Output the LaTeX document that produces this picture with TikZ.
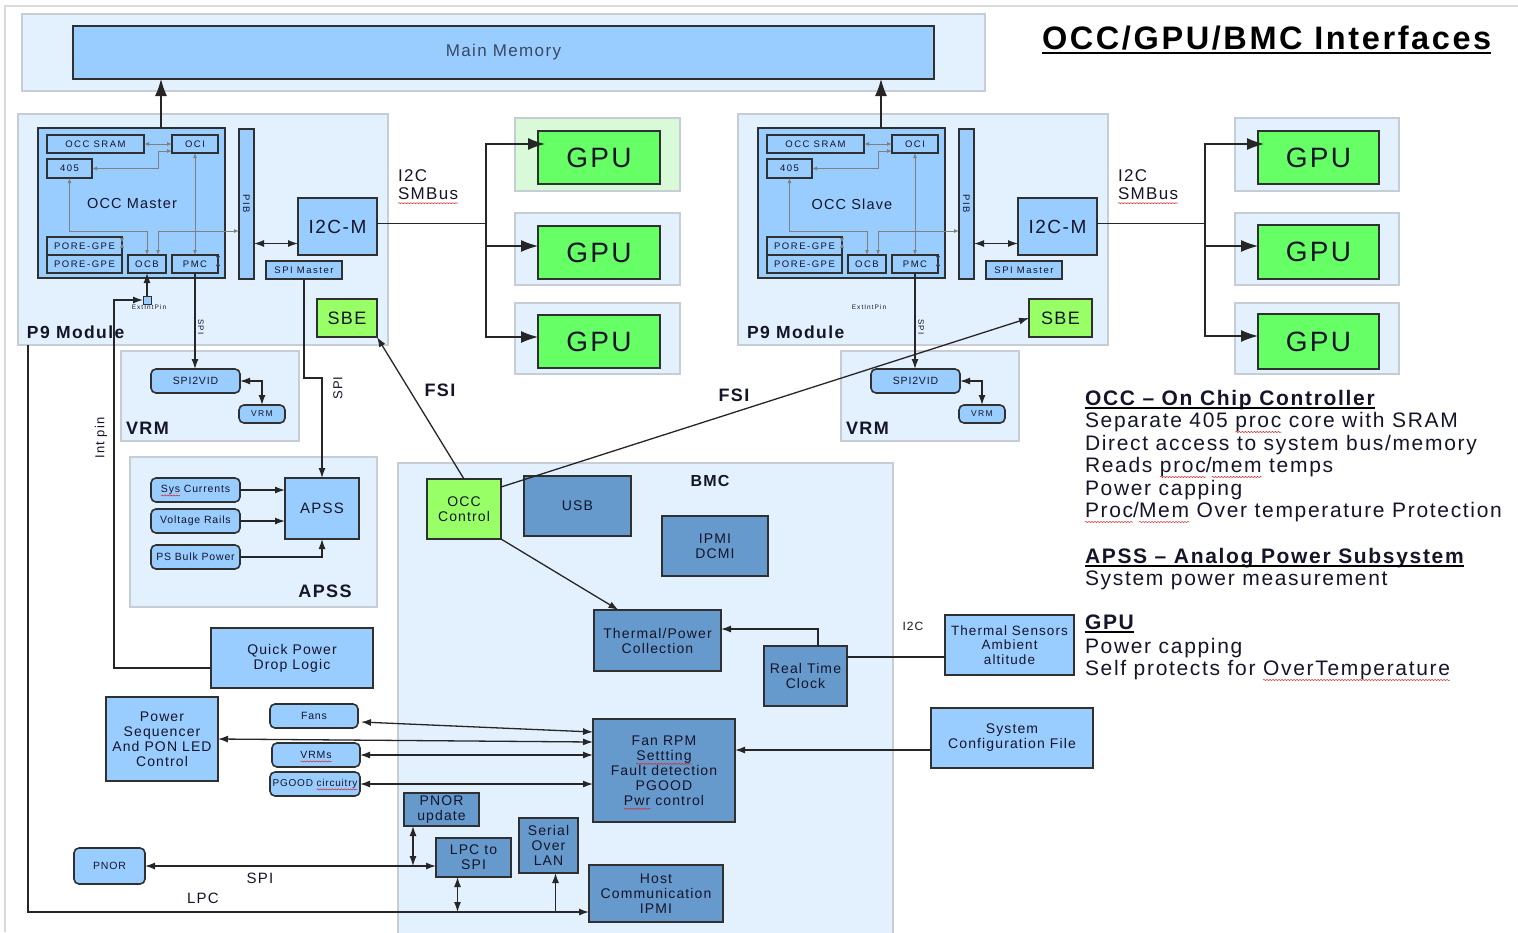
\documentclass[tikz,border=0pt]{standalone}
\usepackage{fontspec}
\setmainfont{Liberation Sans}[LetterSpace=8]
\newfontfamily\tinyface{Liberation Sans}[LetterSpace=16]
\usetikzlibrary{arrows.meta,calc,decorations.pathmorphing}

\definecolor{panelfill}{HTML}{E3F0FD}
\definecolor{panelline}{HTML}{C6CDD5}
\definecolor{gpanelfill}{HTML}{D8FAD8}
\definecolor{lblue}{HTML}{99CCFF}
\definecolor{dblue}{HTML}{6699CC}
\definecolor{gpugreen}{HTML}{66FF66}
\definecolor{sbegreen}{HTML}{99FF66}
\definecolor{boxline}{HTML}{303030}
\definecolor{txt}{HTML}{15152A}
\definecolor{memtxt}{HTML}{3A4862}
\definecolor{framegray}{HTML}{DADADA}
\definecolor{spellred}{HTML}{E02020}

\tikzset{
  bxbase/.style={inner sep=0pt,outer sep=0pt,align=center,text=txt},
  panel/.style={bxbase,fill=panelfill,draw=panelline,line width=1.5pt},
  gpanel/.style={panel,fill=gpanelfill,draw=panelline},
  lbox/.style={bxbase,fill=lblue,draw=boxline,line width=1.6pt},
  rbox/.style={lbox,rounded corners=5pt},
  dbox/.style={bxbase,fill=dblue,draw=boxline,line width=1.6pt},
  gpubox/.style={bxbase,fill=gpugreen,draw=boxline,line width=2pt},
  sbebox/.style={bxbase,fill=sbegreen,draw=boxline,line width=1.8pt},
  lbl/.style={inner sep=0pt,outer sep=0pt,text=txt},
  ftiny/.style={font=\tinyface\fontsize{9.5}{10}\selectfont},
  fsmall/.style={font=\fontsize{10.5}{12}\selectfont},
  fmed/.style={font=\fontsize{14}{15}\selectfont},
  fbold/.style={font=\bfseries\fontsize{18}{20}\selectfont},
  conn/.style={draw=black!85,line width=1.3pt},
  arr/.style={conn,-{Latex[length=10pt,width=7pt]}},
  rarr/.style={conn,{Latex[length=10pt,width=7pt]}-},
  darr/.style={conn,{Latex[length=10pt,width=7pt]}-{Latex[length=10pt,width=7pt]}},
  bigarr/.style={conn,-{Latex[length=17pt,width=12pt]}},
  garr/.style={draw=black!50,line width=0.9pt,{Latex[length=5pt,width=4pt]}-{Latex[length=5pt,width=4pt]}},
  wavy/.style={draw=spellred,line width=0.5pt,sharp corners,fill=none,decorate,decoration={snake,amplitude=0.55pt,segment length=3pt}},
  rt/.style={lbl,anchor=base west,font=\fontsize{21}{23}\selectfont},
  rth/.style={lbl,anchor=base west,font=\bfseries\fontsize{21}{23}\selectfont},
}

% box given by its corners: style, name, x1, y1, x2, y2, text
\newcommand\bx[7]{\node[#1,minimum width={#5-#3},minimum height={#6-#4}] (#2) at ({(#3+#5)/2},{(#4+#6)/2}) {#7};}

% word with a red wavy underline
\newsavebox\splbox
\newlength\spllen
\newlength\spldepth
\newcommand\spl[1]{\sbox\splbox{#1}\setlength\spllen{\wd\splbox}\setlength\spldepth{0.2em}\addtolength\spldepth{0.8pt}\leavevmode\rlap{\usebox\splbox}\tikz[baseline=0pt]{\path[use as bounding box] (0pt,0pt) rectangle (\spllen,0.5pt);\draw[wavy] (0pt,-\spldepth) -- (\spllen,-\spldepth);}}

% one P9 module with its OCC, PIB, I2C master and VRM
\newcommand\pmodule[3]{%
\begin{scope}[xshift=#2]
  \bx{panel}{#1pan}{18}{114}{388}{345}{}
  \bx{lbox}{#1occ}{38}{128}{225}{278}{}
  \bx{lbox,ftiny}{#1sram}{47}{135}{144}{153}{OCC SRAM}
  \bx{lbox,ftiny}{#1oci}{172}{135}{218}{153}{OCI}
  \bx{lbox,ftiny}{#1f}{47}{159}{92}{178}{405}
  \bx{lbox,ftiny}{#1pa}{47}{237}{122}{255}{PORE-GPE}
  \bx{lbox,ftiny}{#1pb}{47}{255}{122}{273}{PORE-GPE}
  \bx{lbox,ftiny}{#1ocb}{128}{255}{166}{273}{OCB}
  \bx{lbox,ftiny}{#1pmc}{172}{255}{218}{273}{PMC}
  \bx{lbox}{#1pib}{239}{129}{254}{279}{}
  \node[lbl,ftiny,rotate=-90] (#1pibt) at (#1pib) {PIB};
  \bx{lbox,font=\fontsize{19}{20}\selectfont}{#1i2c}{298}{198}{377}{255}{I2C-M}
  \bx{lbox,ftiny}{#1spim}{266}{261}{342}{279}{SPI Master}
  \node[lbl,font=\fontsize{14.5}{16}\selectfont] (#1occt) at (132,204) {#3};
  \node[lbl,font=\bfseries\fontsize{17.5}{19}\selectfont,anchor=base west] (#1lab) at (27,338) {P9 Module};
  \node[lbl,font=\tinyface\fontsize{6.5}{7}\selectfont] (#1ext) at (149,307) {ExtIntPin};
  \node[lbl,font=\tinyface\fontsize{8}{9}\selectfont,rotate=-90] (#1spit) at (201,327) {SPI};
  % VRM
  \bx{panel}{#1vpan}{121}{351}{299}{441}{}
  \bx{rbox,fsmall}{#1s2v}{151}{369}{240}{393}{SPI2VID}
  \bx{rbox,font=\tinyface\fontsize{8.5}{9}\selectfont}{#1vrm}{239}{405}{285}{423}{VRM}
  \node[lbl,fbold,anchor=base west] (#1vlab) at (126,434) {VRM};
  % internal OCC links
  \draw[garr] (#1sram.east) -- (#1oci.west);
  \draw[garr] (#1f.east) -| ($(#1oci.west)+(-14,7)$) -- ($(#1oci.west)+(0,7)$);
  \draw[garr] (#1oci.south) -- (#1pmc.north);
  \draw[garr] (#1f.south) -- ++(0,53) -| (#1ocb.north);
  \draw[garr] ($(#1pib.west)+(0,27)$) -| ($(#1ocb.north)+(11,0)$);
  \draw[garr] ($(#1pa.east)+(0,-3)$) -- ($(#1pa.east)+(0,-3)$ -| #1pib.west);
  \draw[garr,draw=black!75] ($(#1pmc.east)+(0,-3)$) -- ($(#1pmc.east)+(0,-3)$ -| #1pib.west);
  \coordinate (#1ia) at ($(#1i2c.west)+(0,17)$);
  \draw[darr] (#1ia -| #1pib.east) -- (#1ia);
  % SPI to the VRM
  \draw[arr] (#1pmc.south) -- (#1pmc.south |- #1s2v.north);
  \draw[darr] (#1s2v.east) -| (#1vrm.north);
  % bus to main memory
  \coordinate (#1up) at ($(#1occ.north)+(29.5,0)$);
  \draw[bigarr] (#1up) -- (#1up |- mem.south);
\end{scope}}

\begin{document}
\begin{tikzpicture}[x=1pt,y=-1pt]
\useasboundingbox (0,0) rectangle (1518,932);
\fill[white] (0,0) rectangle (1518,932);
\draw[framegray,line width=2pt] (4,6) -- (1518,6);
\draw[framegray,line width=2pt] (5,6) -- (5,932);

% main memory
\bx{panel}{mpan}{22}{14}{985}{91}{}
\bx{lbox,font=\fontsize{17}{18}\selectfont,text=memtxt}{mem}{73}{26}{934}{79}{Main Memory}

% title
\node[lbl,anchor=base west,font=\bfseries\fontsize{32.5}{34}\selectfont,text=black] (title) at (1042,49) {OCC/GPU/BMC Interfaces};
\draw[line width=1.6pt] ($(title.base west)+(0,4)$) -- ($(title.base east)+(0,4)$);

% the two P9 modules
\pmodule{l}{0pt}{OCC Master}
\pmodule{r}{720pt}{OCC Slave}
\bx{sbebox,font=\fontsize{18}{19}\selectfont}{lsbe}{317}{299}{377}{337}{SBE}
\bx{sbebox,font=\fontsize{18}{19}\selectfont}{rsbe}{1029}{299}{1092}{337}{SBE}
\bx{lbox,line width=1pt}{lpin}{143}{296}{151}{304}{}
\draw[rarr] (locb.south) -- (lpin.north);

% GPUs
\bx{gpanel}{lgp1}{515}{118}{680}{191}{}
\bx{panel}{lgp2}{515}{213}{680}{285}{}
\bx{panel}{lgp3}{515}{303}{680}{374}{}
\bx{gpubox,font=\fontsize{28}{30}\selectfont}{lg1}{538}{131}{660}{184}{GPU}
\bx{gpubox,font=\fontsize{28}{30}\selectfont}{lg2}{538}{226}{660}{279}{GPU}
\bx{gpubox,font=\fontsize{28}{30}\selectfont}{lg3}{538}{315}{660}{368}{GPU}
\bx{panel}{rgp1}{1235}{118}{1399}{191}{}
\bx{panel}{rgp2}{1235}{213}{1399}{285}{}
\bx{panel}{rgp3}{1235}{303}{1399}{374}{}
\bx{gpubox,font=\fontsize{28}{30}\selectfont}{rg1}{1258}{131}{1379}{184}{GPU}
\bx{gpubox,font=\fontsize{28}{30}\selectfont}{rg2}{1258}{225}{1379}{279}{GPU}
\bx{gpubox,font=\fontsize{28}{30}\selectfont}{rg3}{1258}{314}{1379}{369}{GPU}

% I2C / SMBus fan-out
\coordinate (lbus) at ($(li2c.east)+(109,-3)$);
\draw[conn] ($(li2c.east)+(0,-3)$) -- (lbus);
\draw[bigarr] (lbus) |- ($(lg1.west)+(7,-13.5)$);
\draw[bigarr] (lbus) |- ($(lg2.west)+(0,-6.5)$);
\draw[bigarr] (lbus) |- ($(lg3.west)+(0,-4.5)$);
\coordinate (rbus) at ($(ri2c.east)+(108,-3)$);
\draw[conn] ($(ri2c.east)+(0,-3)$) -- (rbus);
\draw[bigarr] (rbus) |- ($(rg1.west)+(6,-13.5)$);
\draw[bigarr] (rbus) |- ($(rg2.west)+(0,-6)$);
\draw[bigarr] (rbus) |- ($(rg3.west)+(0,-5.5)$);
\node[lbl,anchor=base west,font=\fontsize{17}{18}\selectfont] (li2ct) at (398,181) {I2C};
\node[lbl,anchor=base west,font=\fontsize{17}{18}\selectfont] (lsmbt) at (398,199) {\spl{SMBus}};
\node[lbl,anchor=base west,font=\fontsize{17}{18}\selectfont] (ri2ct) at (1118,181) {I2C};
\node[lbl,anchor=base west,font=\fontsize{17}{18}\selectfont] (rsmbt) at (1118,199) {\spl{SMBus}};

% APSS
\bx{panel}{apan}{130}{457}{377}{607}{}
\bx{lbox,font=\fontsize{15}{16}\selectfont}{apss}{285}{478}{359}{539}{APSS}
\bx{rbox,fsmall}{sysc}{151}{478}{240}{502}{\spl{Sys} Currents}
\bx{rbox,fsmall}{volt}{151}{509}{240}{533}{Voltage Rails}
\bx{rbox,fsmall}{psbp}{151}{545}{240}{569}{PS Bulk Power}
\node[lbl,fbold,anchor=base] (apsslab) at (325,597) {APSS};
\draw[arr] (sysc.east) -- (sysc.east -| apss.west);
\draw[arr] (volt.east) -- (volt.east -| apss.west);
\draw[arr] (psbp.east) -| (apss.south);
\draw[arr] (lspim.south) -- ++(0,99) -| (apss.north);
\node[lbl,font=\fontsize{13}{14}\selectfont,rotate=90] (spit) at (338,388) {SPI};

% quick power drop and interrupt pin
\bx{lbox,fmed}{qpd}{211}{628}{373}{688}{Quick Power\\Drop Logic}
\coordinate (ipc) at (114,300);
\draw[arr] ($(qpd.west)+(0,10)$) -| (ipc) -- (lpin.west);
\node[lbl,font=\fontsize{13}{14}\selectfont,rotate=90] (intp) at (101,438) {Int pin};

% BMC
\bx{panel}{bmc}{398}{463}{893}{950}{}
\node[lbl,font=\bfseries\fontsize{16}{17}\selectfont,anchor=base] (bmclab) at (710,486) {BMC};
\bx{sbebox,fmed}{occc}{427}{479}{501}{539}{OCC\\Control}
\bx{dbox,fmed}{usb}{524}{476}{631}{536}{USB}
\bx{dbox,fmed}{ipmi}{662}{516}{768}{576}{IPMI\\DCMI}
\bx{dbox,fmed}{tp}{594}{610}{721}{671}{Thermal/Power\\Collection}
\bx{dbox,fmed}{rtc}{764}{646}{847}{706}{Real Time\\Clock}
\bx{dbox,fmed}{fan}{593}{719}{735}{822}{Fan RPM\\\spl{Settting}\\Fault detection\\PGOOD\\\spl{Pwr} control}
\bx{dbox,fmed}{hostc}{589}{865}{723}{922}{Host\\Communication\\IPMI}
\bx{dbox,fmed}{pupd}{404}{793}{479}{826}{PNOR\\update}
\bx{dbox,fmed}{l2s}{436}{838}{511}{877}{LPC to\\SPI}
\bx{dbox,fmed}{sol}{519}{818}{578}{873}{Serial\\Over\\LAN}

% devices outside the BMC
\bx{lbox,fmed}{pseq}{106}{697}{218}{781}{Power\\Sequencer\\And PON LED\\Control}
\bx{rbox,fsmall}{fans}{270}{704}{358}{728}{Fans}
\bx{rbox,fsmall}{vrms}{272}{743}{360}{767}{\spl{VRMs}}
\bx{rbox,font=\fontsize{10}{11}\selectfont}{pg}{270}{772}{360}{796}{PGOOD \spl{circuitry}}
\bx{rbox,fsmall}{pnor}{74}{848}{145}{884}{PNOR}
\bx{lbox,font=\fontsize{13.5}{14.5}\selectfont}{ts}{945}{615}{1074}{675}{Thermal Sensors\\Ambient\\altitude}
\bx{lbox,fmed}{syscf}{931}{708}{1093}{768}{System\\Configuration File}
\node[lbl,font=\fontsize{12}{13}\selectfont] (i2ct) at (913,626) {I2C};

% BMC links
\draw[arr] (occc.south east) -- ($(tp.north)+(-39,0)$);
\coordinate (rtA) at ($(rtc.north)+(12.5,0)$);
\draw[arr] (rtA) |- ($(tp.east)+(0,-11.5)$);
\coordinate (tsA) at ($(ts.west)+(0,12)$);
\draw[conn] (tsA) -- (tsA -| rtc.east);
\coordinate (scA) at ($(syscf.west)+(0,12)$);
\draw[arr] (scA) -- (scA -| fan.east);
\draw[darr] ($(fans.east)+(3,6)$) -- ($(fan.west)+(0,-38.5)$);
\draw[darr] (pseq.east) -- ($(fan.west)+(0,-28.5)$);
\draw[darr] (vrms.east) -- (vrms.east -| fan.west);
\draw[darr] (pg.east) -- (pg.east -| fan.west);

% FSI links
\draw[arr] (occc.north) -- (lsbe.south east);
\draw[arr] ($(occc.north east)+(0,8)$) -- (rsbe.west);
\node[lbl,fbold] (fsil) at (440,390) {FSI};
\node[lbl,fbold] (fsir) at (734,395) {FSI};

% PNOR, SPI and LPC
\draw[darr] (pnor.east) -- (pnor.east -| l2s.west);
\coordinate (puA) at ($(pupd.south)+(-28.5,0)$);
\draw[darr] (puA) -- (puA |- pnor.east);
\coordinate (lpcA) at ($(lpan.south west)+(10,0)$);
\coordinate (lpcB) at (28,912);
\draw[arr] (lpcA) -- (lpcB) -- (lpcB -| hostc.west);
\coordinate (l2sA) at ($(l2s.south)+(-16,0)$);
\draw[darr] (l2sA) -- (l2sA |- lpcB);
\coordinate (solA) at ($(sol.south)+(7,0)$);
\draw[arr] (solA |- lpcB) -- (solA);
\node[lbl,font=\fontsize{15}{16}\selectfont] (spib) at (260,878) {SPI};
\node[lbl,font=\fontsize{15}{16}\selectfont] (lpcb) at (203,898) {LPC};

% legend
\node[rth] (h1) at (1085,405) {OCC – On Chip Controller};
\draw[line width=1.4pt] ($(h1.base west)+(0,3)$) -- ($(h1.base east)+(0,3)$);
\node[rt] (t1) at (1085,427) {Separate 405 \spl{proc} core with SRAM};
\node[rt] (t2) at (1085,450) {Direct access to system bus/memory};
\node[rt] (t3) at (1085,472) {Reads \spl{proc}/\spl{mem} temps};
\node[rt] (t4) at (1085,495) {Power capping};
\node[rt] (t5) at (1085,517) {\spl{Proc}/\spl{Mem} Over temperature Protection};
\node[rth] (h2) at (1085,563) {APSS – Analog Power Subsystem};
\draw[line width=1.4pt] ($(h2.base west)+(0,3)$) -- ($(h2.base east)+(0,3)$);
\node[rt] (t6) at (1085,585) {System power measurement};
\node[rth] (h3) at (1085,629) {GPU};
\draw[line width=1.4pt] ($(h3.base west)+(0,3)$) -- ($(h3.base east)+(0,3)$);
\node[rt] (t7) at (1085,653) {Power capping};
\node[rt] (t8) at (1085,675) {Self protects for \spl{OverTemperature}};
\end{tikzpicture}
\end{document}
